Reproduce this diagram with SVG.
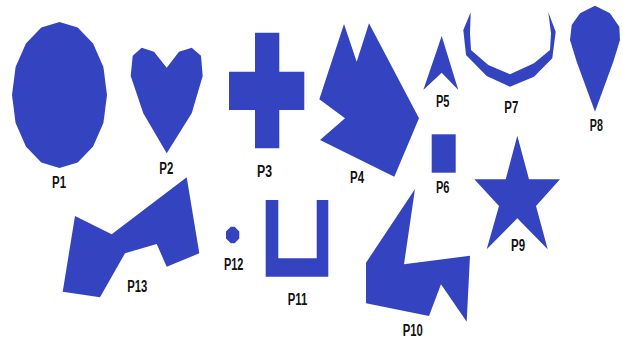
<svg xmlns="http://www.w3.org/2000/svg" width="623" height="340" viewBox="0 0 623 340">
<style>
.s{fill:#3443bf;stroke:none}
.t{font-family:"Liberation Sans",Arial,sans-serif;font-weight:bold;font-size:16px;fill:#111;text-anchor:middle}
</style>
<rect width="623" height="340" fill="#fff"/>
<g id="P1"><polygon class="s" points="59.5,22 77.7,27.6 93.1,43.4 103.4,67.1 107,95 103.4,122.9 93.1,146.6 77.7,162.4 59.5,168 41.3,162.4 25.9,146.6 15.6,122.9 12,95 15.6,67.1 25.9,43.4 41.3,27.6"/><text class="t" x="59" y="188" textLength="14" lengthAdjust="spacingAndGlyphs">P1</text></g>
<g id="P2"><polygon class="s" points="141.7,47.7 154,51.7 166.7,67.7 179,51.7 191.7,47.7 201,55.7 202.7,76 191.7,113.3 166.7,153.3 143.3,113.3 130.7,76 132.7,55.7"/><text class="t" x="166.3" y="174" textLength="14" lengthAdjust="spacingAndGlyphs">P2</text></g>
<g id="P3"><polygon class="s" points="255,32.7 279.3,32.7 279.3,71.7 304.3,71.7 304.3,110 279.3,110 279.3,148.3 255,148.3 255,110 229,110 229,71.7 255,71.7"/><text class="t" x="264.5" y="176.7" textLength="15" lengthAdjust="spacingAndGlyphs">P3</text></g>
<g id="P4"><polygon class="s" points="344,24 356.7,61.7 369,23.3 419,118.3 394.3,176.7 320,140 345,118.3 319.3,99.3"/><text class="t" x="357" y="183.3" textLength="14" lengthAdjust="spacingAndGlyphs">P4</text></g>
<g id="P5"><polygon class="s" points="441.7,36 458.3,90 441.7,72.7 423.3,90"/><text class="t" x="442.7" y="107.3" textLength="13.5" lengthAdjust="spacingAndGlyphs">P5</text></g>
<g id="P6"><rect class="s" x="431.7" y="134.3" width="24" height="38.4"/><text class="t" x="442.7" y="193.3" textLength="13.5" lengthAdjust="spacingAndGlyphs">P6</text></g>
<g id="P7"><polygon class="s" points="470.7,12.3 463.3,30 466,55 486.7,76 510,86.7 534,76.7 552.3,58.3 555.7,31.7 548.3,12.3 551,33.3 550,50 534,63.3 510,74.3 488.3,65 471,50 470,33.3"/><text class="t" x="511.3" y="112.7" textLength="14" lengthAdjust="spacingAndGlyphs">P7</text></g>
<g id="P8"><polygon class="s" points="595,5.7 610,13.3 619.3,26.7 620,40 613.3,61.7 595,111.7 576.7,61.7 570,40 571.7,25 580,13.3"/><text class="t" x="596.3" y="131" textLength="13" lengthAdjust="spacingAndGlyphs">P8</text></g>
<g id="P9"><polygon class="s" points="517.3,135.7 529,179.3 560,179.3 536,206 547.7,249.3 517.3,218.3 486.7,249.3 499,206 474.3,179.3 505.7,179.3"/><text class="t" x="518" y="251" textLength="14" lengthAdjust="spacingAndGlyphs">P9</text></g>
<g id="P10"><polygon class="s" points="415,189 404,264.3 470,255.7 466.7,321.7 441,284.3 429,316 366,303.3 366,262.7"/><text class="t" x="412.7" y="336" textLength="20" lengthAdjust="spacingAndGlyphs">P10</text></g>
<g id="P11"><polygon class="s" points="265.7,200 278.3,200 278.3,258.3 316.7,258.3 316.7,200 328.3,200 328.3,276.7 265.7,276.7"/><text class="t" x="297.5" y="305" textLength="19.5" lengthAdjust="spacingAndGlyphs">P11</text></g>
<g id="P12"><polygon class="s" points="230.8,226.7 234.6,226.7 239.3,231.5 239.3,238.5 234.6,243.3 230.8,243.3 226,238.5 226,231.5"/><text class="t" x="233.7" y="270" textLength="19.5" lengthAdjust="spacingAndGlyphs">P12</text></g>
<g id="P13"><polygon class="s" points="75,216 111.7,234.3 186.7,177.3 199.3,253.3 166.7,266.7 156.7,244 125,253.3 100,297.3 62.7,291.7"/><text class="t" x="137.3" y="291.7" textLength="20" lengthAdjust="spacingAndGlyphs">P13</text></g>
<g id="connectors"></g>
</svg>
